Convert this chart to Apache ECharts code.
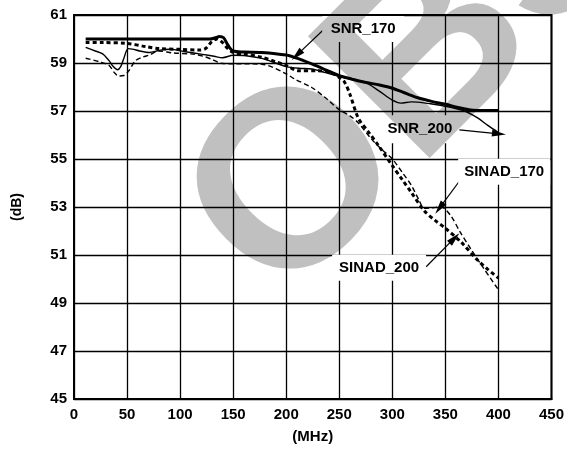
<!DOCTYPE html>
<html>
<head>
<meta charset="utf-8">
<script src="https://cdn.jsdelivr.net/npm/echarts@6/dist/echarts.min.js"></script>
<style>
html,body{margin:0;padding:0;background:#fff;}
#chart{width:567px;height:449px;}
</style>
</head>
<body>
<div id="chart"></div>
<script>
// Axis ranges
const xMin = 0, xMax = 450, xStep = 50;
const yMin = 45, yMax = 61, yStep = 2;

// SNR_170 (thick solid)
const snr170Freq = [11,50,100,128,133,137,141,145,150,160,177,200,210,224,240,250,262,274,288,300,312,324,337,350,362,374,385,400];
const snr170Db   = [60.0,60.0,60.0,60.0,60.05,60.1,60.05,59.75,59.5,59.46,59.44,59.33,59.2,58.96,58.66,58.47,58.33,58.2,58.08,57.95,57.75,57.55,57.4,57.28,57.15,57.04,57.02,57.02];

// SNR_200 (thin solid)
const snr200Freq = [11,20,27,33,37,41,44,47,51,55,62,71,80,90,105,121,132,140,150,162,177,190,200,212,224,237,250,262,274,287,300,308,318,336,350,368,380,390,400];
const snr200Db   = [59.65,59.5,59.38,59.1,58.85,58.72,58.85,59.2,59.6,59.58,59.5,59.44,59.52,59.57,59.47,59.36,59.28,59.22,59.32,59.3,59.19,59.0,58.85,58.78,58.75,58.6,58.44,58.3,58.2,57.85,57.45,57.33,57.38,57.3,57.2,57.0,56.72,56.4,56.1];

// SINAD_170 (thin dashed)
const sinad170Freq = [11,24,33,38,42,47,52,58,65,71,80,93,112,122,130,140,150,177,200,208,224,237,250,260,268,280,290,300,310,318,325,330,338,346,355,364,374,386,400];
const sinad170Db   = [59.2,59.05,58.9,58.6,58.46,58.48,58.7,59.1,59.25,59.33,59.5,59.42,59.37,59.28,59.15,58.98,58.97,58.95,58.55,58.33,57.98,57.55,57.05,56.8,56.5,55.85,55.4,55.0,54.4,53.9,53.3,52.95,52.97,53.0,52.64,51.95,51.25,50.45,49.55];

// SINAD_200 (thick dashed)
const sinad200Freq = [11,27,49,68,80,99,118,124,130,135,140,145,150,160,177,190,200,211,230,242,250,255,260,268,278,287,300,310,318,330,340,349,365,380,390,400];
const sinad200Db   = [59.85,59.85,59.82,59.68,59.6,59.57,59.54,59.6,59.9,60.0,59.85,59.6,59.44,59.38,59.24,59.05,58.9,58.68,58.68,58.6,58.4,58.2,57.7,56.7,56.1,55.56,54.72,54.1,53.6,52.85,52.45,52.15,51.53,50.8,50.4,50.04];

// Annotation labels and arrow positions (data units)
const labelNames = ['SNR_170','SNR_200','SINAD_170','SINAD_200'];
const labelPos = [[272.5,60.42],[326,56.24],[405.4,54.47],[287.5,50.47]];
const arrowStart = [[236.6,60.45],[363.2,56.21],[366.3,54.26],[331.9,50.51]];
const arrowEnd   = [[210,59.33],[400.5,56.05],[344.4,52.95],[358.5,51.7]];

const FONT = '"Liberation Sans", Arial, Helvetica, sans-serif';
const zip = (a,b) => a.map((v,i) => [v,b[i]]);

const chart = echarts.init(document.getElementById('chart'), null, {renderer:'canvas'});

const boxSizes = [[82,26],[78,28],[92,26],[94,26]];

const option = {
  animation: false,
  backgroundColor: '#fff',
  grid: {left:74, right:13, top:15, bottom:50, show:true, borderColor:'#000', borderWidth:2, backgroundColor:'transparent'},
  xAxis: {
    type:'value', min:xMin, max:xMax, interval:xStep,
    name:'(MHz)', nameLocation:'middle', nameGap:30,
    nameTextStyle:{color:'#000', fontWeight:'bold', fontSize:15, fontFamily:FONT},
    axisLine:{show:true, lineStyle:{color:'#000', width:2}},
    axisTick:{show:false},
    axisLabel:{color:'#000', fontWeight:'bold', fontSize:15, fontFamily:FONT, margin:8},
    splitLine:{show:true, lineStyle:{color:'#000', width:1.3}}
  },
  yAxis: {
    type:'value', min:yMin, max:yMax, interval:yStep,
    name:'(dB)', nameLocation:'middle', nameGap:50, nameRotate:90,
    nameTextStyle:{color:'#000', fontWeight:'bold', fontSize:14, fontFamily:FONT},
    axisLine:{show:true, lineStyle:{color:'#000', width:2}},
    axisTick:{show:false},
    axisLabel:{color:'#000', fontWeight:'bold', fontSize:15, fontFamily:FONT, margin:7},
    splitLine:{show:true, lineStyle:{color:'#000', width:1.3}}
  },
  graphic: [{
    type:'text', x:423, y:67, rotation:Math.PI/4, z:100, silent:true,
    style:{text:'OBS', font:'bold 250px ' + FONT, fill:'#c0c0c0',
      textAlign:'center', textVerticalAlign:'middle'}
  }],
  series: [
    {name:'SNR_170', type:'line', data:zip(snr170Freq, snr170Db), showSymbol:false, smooth:0.3,
      lineStyle:{color:'#000', width:3}, z:3},
    {name:'SNR_200', type:'line', data:zip(snr200Freq, snr200Db), showSymbol:false, smooth:0.3,
      lineStyle:{color:'#000', width:1.4}, z:3},
    {name:'SINAD_170', type:'line', data:zip(sinad170Freq, sinad170Db), showSymbol:false, smooth:0.3,
      lineStyle:{color:'#000', width:1.4, type:[5,3]}, z:3},
    {name:'SINAD_200', type:'line', data:zip(sinad200Freq, sinad200Db), showSymbol:false, smooth:0.3,
      lineStyle:{color:'#000', width:3, type:[4,3]}, z:3},
    {name:'annotations', type:'line', data:[], z:4,
      markPoint:{
        silent:true,
        data: labelNames.map((n,i) => ({
          name:n, coord:labelPos[i], symbol:'rect', symbolSize:boxSizes[i],
          itemStyle:{color:'#fff'},
          label:{show:true, position:'inside', formatter:n, color:'#000', fontWeight:'bold', fontSize:15, fontFamily:FONT}
        }))
      },
      markLine:{
        silent:true, symbol:['none','triangle'], symbolSize:[7,14],
        label:{show:false},
        lineStyle:{color:'#000', width:1.2, type:'solid'},
        data: arrowStart.map((s,i) => [{coord:s},{coord:arrowEnd[i]}])
      }
    }
  ]
};
chart.setOption(option);

// Watermark is blended with "multiply" so black lines and text stay black over it
const zr = chart.getZr();
zr.storage.getDisplayList(true).forEach(el => {
  if (el.style && el.style.text === 'OBS') { el.style.blend = 'multiply'; el.markRedraw(); }
});
zr.refreshImmediately();
</script>
</body>
</html>
